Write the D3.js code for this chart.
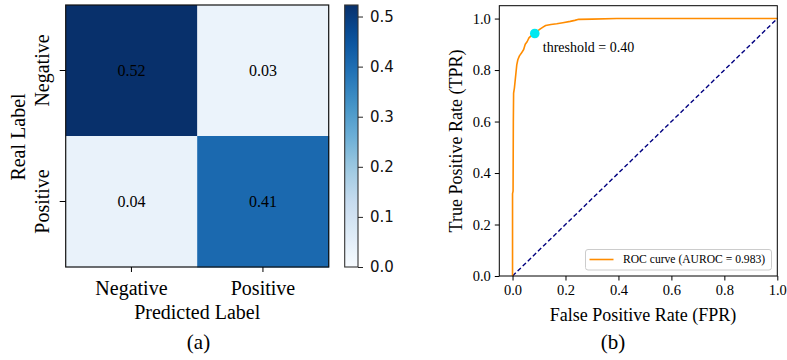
<!DOCTYPE html>
<html><head><meta charset="utf-8">
<script src="https://cdn.jsdelivr.net/npm/d3@7"></script>
<style>body{margin:0;background:#fff} svg{display:block}</style>
</head><body>
<svg id="c" width="787" height="360"></svg>
<script>
// ---------- data ----------
const classes = ["Negative", "Positive"];
const cmRow0 = [0.523, 0.031];   // real Negative
const cmRow1 = [0.037, 0.409];   // real Positive
const cbTicks = [0.0, 0.1, 0.2, 0.3, 0.4, 0.5];
const rocFPR = [0, 0, 0.002, 0.003, 0.004, 0.007, 0.010, 0.013, 0.016, 0.020, 0.026, 0.033, 0.042, 0.048, 0.055, 0.062, 0.072, 0.083, 0.095, 0.105, 0.115, 0.125, 0.145, 0.167, 0.190, 0.218, 0.235, 0.250, 0.300, 0.394, 0.500, 0.700, 1.000];
const rocTPR = [0, 0.32, 0.33, 0.60, 0.71, 0.73, 0.76, 0.79, 0.82, 0.84, 0.855, 0.865, 0.88, 0.90, 0.91, 0.925, 0.935, 0.944, 0.952, 0.960, 0.967, 0.973, 0.977, 0.980, 0.984, 0.989, 0.993, 0.997, 0.998, 1.0, 1.0, 1.0, 1.0];
const thrFPR = [0.084];
const thrTPR = [0.942];
const thrLabel = "threshold = 0.40";
const rocTicks = [0.0, 0.2, 0.4, 0.6, 0.8, 1.0];
const legendLabel = "ROC curve (AUROC = 0.983)";
const captions = ["(a)", "(b)"];

// ---------- setup ----------
const svg = d3.select("#c");
const SERIF = "'Liberation Serif','Times New Roman',Times,serif";
const SANS = "'DejaVu Sans',sans-serif";
const bluesStops = ["#f7fbff","#deebf7","#c6dbef","#9ecae1","#6baed6","#4292c6","#2171b5","#08519c","#08306b"];
const vmax = d3.max([...cmRow0, ...cmRow1]);
const cmap = d3.scaleLinear()
  .domain(d3.range(9).map(i => i / 8 * vmax))
  .range(bluesStops).interpolate(d3.interpolateRgb).clamp(true);

// ---------- confusion matrix ----------
const mx = d3.scaleBand().domain(classes).range([65.7, 328.7]);
const my = d3.scaleBand().domain(classes).range([5, 267]);
const cells = [];
[cmRow0, cmRow1].forEach((row, i) => row.forEach((v, j) => cells.push({r: classes[i], c: classes[j], v})));
const gM = svg.append("g");
gM.selectAll("rect.cell").data(cells).join("rect").attr("class","cell")
  .attr("x", d => mx(d.c)).attr("y", d => my(d.r))
  .attr("width", mx.bandwidth() + 0.5).attr("height", my.bandwidth() + 0.5)
  .attr("fill", d => cmap(d.v));
gM.selectAll("text.val").data(cells).join("text").attr("class","val")
  .attr("x", d => mx(d.c) + mx.bandwidth()/2).attr("y", d => my(d.r) + my.bandwidth()/2)
  .attr("text-anchor","middle").attr("dominant-baseline","central")
  .attr("font-family", SERIF).attr("font-size", 16).attr("fill","#000")
  .text(d => d3.format(".2f")(d.v));
gM.append("rect").attr("x", 65.7).attr("y", 5).attr("width", 263).attr("height", 262)
  .attr("fill","none").attr("stroke","#111").attr("stroke-width",1.2);
// x axis
const axMX = gM.append("g").attr("transform","translate(0,267)")
  .call(d3.axisBottom(mx).tickSize(5).tickPadding(9));
axMX.select(".domain").remove();
axMX.selectAll("text").attr("font-family", SERIF).attr("font-size", 20).attr("fill","#000").attr("dy","0.71em");
axMX.selectAll("line").attr("stroke","#000");
// y axis
const axMY = gM.append("g").attr("transform","translate(65.7,0)")
  .call(d3.axisLeft(my).tickSize(6));
axMY.select(".domain").remove();
axMY.selectAll("line").attr("stroke","#000");
axMY.selectAll("text").attr("font-family", SERIF).attr("font-size", 20).attr("fill","#000")
  .attr("x", null).attr("dy", null)
  .attr("text-anchor","middle").attr("dominant-baseline","central")
  .attr("transform", "translate(-23.5,0) rotate(-90)");
gM.append("text").attr("x", 197.2).attr("y", 318.5).attr("text-anchor","middle")
  .attr("font-family", SERIF).attr("font-size", 20).text("Predicted Label");
gM.append("text").attr("transform","translate(18,137) rotate(-90)").attr("text-anchor","middle")
  .attr("dominant-baseline","central").attr("font-family", SERIF).attr("font-size", 20).text("Real Label");

// ---------- colorbar ----------
const cbY = d3.scaleLinear().domain([0, vmax]).range([267, 5]);
const defs = svg.append("defs");
const grad = defs.append("linearGradient").attr("id","cbg").attr("x1",0).attr("y1",1).attr("x2",0).attr("y2",0);
d3.range(0, 1.0001, 0.05).forEach(t => grad.append("stop").attr("offset", t).attr("stop-color", cmap(t * vmax)));
svg.append("rect").attr("x", 344.7).attr("y", 5).attr("width", 13.3).attr("height", 262)
  .attr("fill","url(#cbg)").attr("stroke","#333").attr("stroke-width",1.1);
const axCB = svg.append("g").attr("transform","translate(358,0)")
  .call(d3.axisRight(cbY).tickValues(cbTicks).tickFormat(d3.format(".1f")).tickSize(5).tickPadding(7));
axCB.select(".domain").remove();
axCB.selectAll("line").attr("stroke","#222");
axCB.selectAll("text").attr("font-family", SANS).attr("font-size", 15).attr("fill","#111");

// ---------- ROC ----------
const rx = d3.scaleLinear().domain([-0.05, 1.0]).range([499.3, 777.3]);
const ry = d3.scaleLinear().domain([0, 1.05]).range([276, 5.7]);
const gR = svg.append("g");
gR.append("line").attr("x1", rx(0)).attr("y1", ry(0)).attr("x2", rx(1)).attr("y2", ry(1))
  .attr("stroke","#000080").attr("stroke-width",1.4).attr("stroke-dasharray","4.5,2.6");
const line = d3.line().x(d => rx(d[0])).y(d => ry(d[1]));
gR.append("path").datum(rocFPR.map((f, i) => [f, rocTPR[i]]))
  .attr("d", line).attr("fill","none").attr("stroke","#ff8c00").attr("stroke-width",1.6).attr("stroke-linejoin","round");
gR.selectAll("circle.thr").data(thrFPR.map((f, i) => [f, thrTPR[i]])).join("circle").attr("class","thr")
  .attr("cx", d => rx(d[0])).attr("cy", d => ry(d[1])).attr("r", 4.8).attr("fill","#00e8f0");
gR.append("text").attr("x", rx(thrFPR[0]) + 8).attr("y", 52.3)
  .attr("font-family", SERIF).attr("font-size", 14).text(thrLabel);
gR.append("rect").attr("x", 499.3).attr("y", 5.7).attr("width", 278).attr("height", 270.3)
  .attr("fill","none").attr("stroke","#000").attr("stroke-width",1);
const axRX = gR.append("g").attr("transform","translate(0,276)")
  .call(d3.axisBottom(rx).tickValues(rocTicks).tickFormat(d3.format(".1f")).tickSize(4.5).tickPadding(4.5));
axRX.select(".domain").remove();
axRX.selectAll("line").attr("stroke","#000");
axRX.selectAll("text").attr("font-family", SERIF).attr("font-size", 14.5).attr("fill","#000");
const axRY = gR.append("g").attr("transform","translate(499.3,0)")
  .call(d3.axisLeft(ry).tickValues(rocTicks).tickFormat(d3.format(".1f")).tickSize(4.5).tickPadding(4));
axRY.select(".domain").remove();
axRY.selectAll("line").attr("stroke","#000");
axRY.selectAll("text").attr("font-family", SERIF).attr("font-size", 14.5).attr("fill","#000");
gR.append("text").attr("x", 643).attr("y", 320.5).attr("text-anchor","middle")
  .attr("font-family", SERIF).attr("font-size", 18).text("False Positive Rate (FPR)");
gR.append("text").attr("transform","translate(456,141) rotate(-90)").attr("text-anchor","middle")
  .attr("dominant-baseline","central").attr("font-family", SERIF).attr("font-size", 18).text("True Positive Rate (TPR)");
// legend
const lg = gR.append("g");
lg.append("rect").attr("x", 585.5).attr("y", 249.5).attr("width", 186).attr("height", 20.5).attr("rx", 2.5)
  .attr("fill","#fff").attr("fill-opacity",0.8).attr("stroke","#ccc").attr("stroke-width",1);
lg.append("line").attr("x1", 589.5).attr("x2", 613.5).attr("y1", 259.5).attr("y2", 259.5)
  .attr("stroke","#ff8c00").attr("stroke-width",1.6);
lg.append("text").attr("x", 623).attr("y", 259.8).attr("dominant-baseline","central")
  .attr("font-family", SERIF).attr("font-size", 11.6).text(legendLabel);

// ---------- captions ----------
svg.selectAll("text.cap").data(captions).join("text").attr("class","cap")
  .attr("x", (d, i) => [198.5, 613][i]).attr("y", 349).attr("text-anchor","middle")
  .attr("font-family", SERIF).attr("font-size", 21).text(d => d);
</script>
</body></html>
